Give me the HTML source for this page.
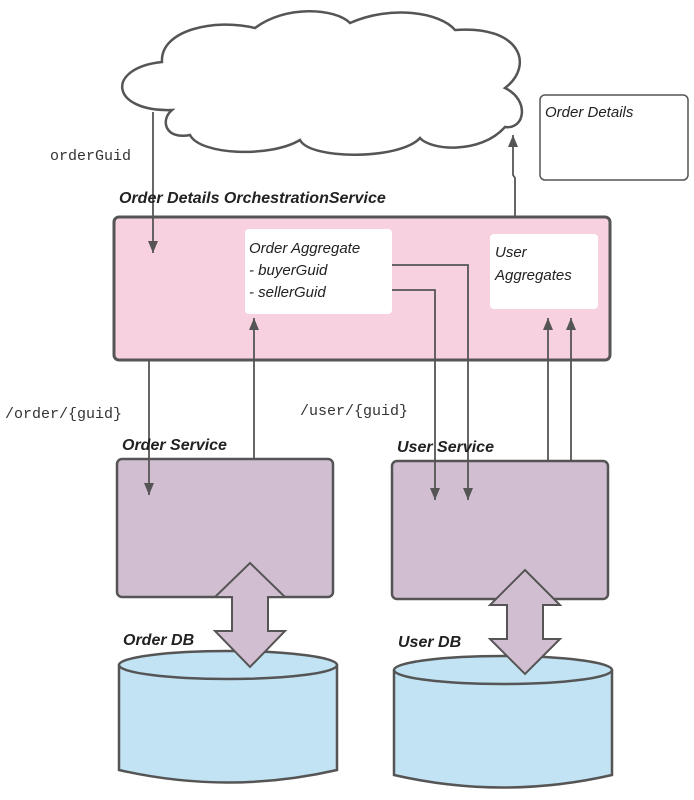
<!DOCTYPE html>
<html><head><meta charset="utf-8"><style>
body{margin:0;background:#fff}
svg text{font-family:"Liberation Sans",sans-serif}
.h{font-weight:bold;font-style:italic;font-size:16px;fill:#222}
.n{font-style:italic;font-size:15px;fill:#222}
.m{font-family:"Liberation Mono",monospace!important;font-size:15px;fill:#333}
</style></head><body>
<svg width="694" height="795" viewBox="0 0 694 795" xmlns="http://www.w3.org/2000/svg">
<defs><marker id="a" markerWidth="12" markerHeight="10" refX="12" refY="5" orient="auto" markerUnits="userSpaceOnUse" viewBox="0 0 12 10"><path d="M0,0 L12,5 L0,10z" fill="#555"/></marker></defs>
<g stroke="#555" stroke-width="2" fill="none">
<path d="M172,110 C110,112 105,68 162,62 C160,30 215,18 255,28 C285,5 335,8 350,23 C390,5 440,12 455,30 C520,25 535,65 505,88 C530,100 525,130 505,127 C480,155 430,150 420,138 C400,160 310,160 300,140 C270,158 200,155 190,135 C165,140 160,120 172,110z" fill="#fff" stroke-width="2.5"/>
<rect x="540" y="95" width="148" height="85" rx="5" fill="#fff" stroke-width="1.5"/>
<rect x="114" y="217" width="496" height="143" rx="5" fill="#f7d1df" stroke-width="3"/>
<rect x="245" y="229" width="147" height="85" rx="4" fill="#fff" stroke="none"/>
<rect x="490" y="234" width="108" height="75" rx="4" fill="#fff" stroke="none"/>
<rect x="117" y="459" width="216" height="138" rx="5" fill="#d1bfd1" stroke-width="2.5"/>
<rect x="392" y="461" width="216" height="138" rx="5" fill="#d1bfd1" stroke-width="2.5"/>
<path d="M119,665 L119,770 Q228,795 337,770 L337,665" fill="#c2e3f3" stroke-width="2.5"/>
<ellipse cx="228" cy="665" rx="109" ry="14" fill="#c2e3f3" stroke-width="2.5"/>
<path d="M394,670 L394,775 Q503,800 612,775 L612,670" fill="#c2e3f3" stroke-width="2.5"/>
<ellipse cx="503" cy="670" rx="109" ry="14" fill="#c2e3f3" stroke-width="2.5"/>
<path d="M250,563 L285,597 L268,597 L268,631 L285,631 L250,667 L215,631 L232,631 L232,597 L215,597z" fill="#d1bfd1" stroke-width="2"/>
<path d="M525,570 L560,605 L543,605 L543,639 L560,639 L525,674 L490,639 L507,639 L507,605 L490,605z" fill="#d1bfd1" stroke-width="2"/>
<g stroke-width="1.8">
<path d="M153,112 L153,253" marker-end="url(#a)"/>
<path d="M515,217 L515,178 L513,175 L513,135" marker-end="url(#a)"/>
<path d="M149,360 L149,495" marker-end="url(#a)"/>
<path d="M254,459 L254,318" marker-end="url(#a)"/>
<path d="M392,265 L468,265 L468,500" marker-end="url(#a)"/>
<path d="M392,290 L435,290 L435,500" marker-end="url(#a)"/>
<path d="M548,461 L548,318" marker-end="url(#a)"/>
<path d="M571,461 L571,318" marker-end="url(#a)"/>
</g>
</g>
<text x="545" y="117" class="n" font-size="14">Order Details</text>
<text x="119" y="203" class="h">Order Details OrchestrationService</text>
<text x="249" y="253" class="n">Order Aggregate</text>
<text x="249" y="275" class="n">- buyerGuid</text>
<text x="249" y="297" class="n">- sellerGuid</text>
<text x="495" y="257" class="n">User</text>
<text x="495" y="280" class="n">Aggregates</text>
<text x="50" y="160" class="m">orderGuid</text>
<text x="5" y="418" class="m">/order/{guid}</text>
<text x="300" y="415" class="m">/user/{guid}</text>
<text x="122" y="450" class="h">Order Service</text>
<text x="397" y="452" class="h">User Service</text>
<text x="123" y="645" class="h">Order DB</text>
<text x="398" y="647" class="h">User DB</text>
</svg>
</body></html>
